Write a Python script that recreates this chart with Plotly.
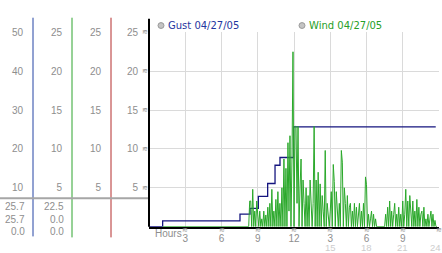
import plotly.graph_objects as go

W, H = 442, 253

# ---------------- data ----------------
gust_hours = [0, 1.13, 7.53, 8.36, 9.05, 9.82, 10.43, 10.84, 11.96, 23.73]
gust_mph = [0, 1.5, 3.2, 4.7, 7.8, 11.1, 15.8, 17.8, 25.7, 25.7]

wind_lead_hours = [1.13]
wind_lead_mph = [0]
wind_start = 8.25
wind_step = 1 / 12
wind_mph = [
    0, 3.3, 3.3, 0, 4.8, 0, 2, 0, 3.3,
    1.5, 0, 2, 0, 1, 0, 2, 0, 1.5, 0, 2.5, 0,
    3, 0, 4.8, 0, 2, 0, 3.5, 0, 4.5, 0, 3, 0,
    5, 0, 8.7, 0, 7.5, 0, 10.8, 2, 11.7, 0, 9, 22.5,
    0, 12.9, 12.9, 3, 12.9, 0, 5, 8.7, 0, 6, 3, 0,
    5, 0, 4, 0, 6, 2, 0, 3, 12.9, 0, 6, 0,
    7, 0, 5.5, 0, 4, 2, 0, 9.8, 0, 3, 1, 0,
    2, 4.5, 0, 8, 5.8, 0, 4.5, 2, 0, 3, 0, 9.8,
    8.3, 0, 5, 3, 0, 4, 0, 2.5, 3, 0, 2, 0,
    3, 0, 2.5, 0, 1.6, 3, 0, 2, 0, 3, 0, 6.4,
    5.4, 0, 1.6, 0, 1, 2, 0, 1.6, 0, 1, 0, 0,
    0, 0, 0, 0, 0, 0, 0, 1.6, 0, 2.5, 0, 3.3,
    0, 2, 0, 1.6, 3, 0, 1.6, 0, 2.5, 0, 1.6, 0,
    3.3, 0, 1.6, 4.8, 0, 3.3, 0, 4, 2, 0, 3.3, 0,
    2, 0, 3.5, 0, 2.5, 0, 1.6, 2, 0, 2.5, 0, 1,
    0, 1.6, 0, 1, 2, 0, 1.6, 0, 0.8, 0, 0,
]
wind_hours = wind_lead_hours + [wind_start + i * wind_step for i in range(len(wind_mph))]
wind_vals = wind_lead_mph + wind_mph

x_tickvals = [3, 6, 9, 12, 15, 18, 21, 24]
x_ticktext = ["3", "6", "9", "12", "3", "6", "9", "12"]
x_second_vals = [15, 18, 21, 24]
x_second_text = ["15", "18", "21", "24"]

main_ticks = [5, 10, 15, 20, 25]
gust_ticks = [10, 20, 30, 40, 50]

gust_label = "Gust 04/27/05"
wind_label = "Wind 04/27/05"

# ---------------- styles ----------------
GUST_COLOR = "#15157f"
WIND_COLOR = "#2aa82a"
GRID = "#dadada"
TICK_GRAY = "#8e8e8e"
LIGHT_GRAY = "#cdcdcd"
MARK_GRAY = "#8a8a8a"
FONT = "Liberation Sans"
MARK = "≋"


def px(x):
    return x / W


def py(y):
    return 1 - y / H


fig = go.Figure()
fig.add_trace(go.Scatter(x=wind_hours, y=wind_vals, mode="lines",
                         line=dict(color=WIND_COLOR, width=1), yaxis="y3",
                         name=wind_label, showlegend=False))
fig.add_trace(go.Scatter(x=gust_hours, y=gust_mph, mode="lines",
                         line=dict(color=GUST_COLOR, width=1.3, shape="hv"), yaxis="y2",
                         name=gust_label, showlegend=False))
fig.add_trace(go.Scatter(x=[None], y=[None], mode="lines", yaxis="y4", showlegend=False))

tickfont = dict(family=FONT, size=10, color=TICK_GRAY)
ydom = [py(226), py(27)]

fig.update_layout(
    width=W, height=H,
    margin=dict(l=0, r=0, t=0, b=0),
    paper_bgcolor="white", plot_bgcolor="white",
    xaxis=dict(domain=[px(149), px(439)], range=[0, 24], tickvals=x_tickvals,
               ticktext=x_ticktext, showgrid=True, gridcolor=GRID, gridwidth=1,
               showline=True, linecolor="black", linewidth=2, ticks="",
               zeroline=False, tickfont=tickfont, ticklabelstandoff=1),
    yaxis=dict(domain=ydom, range=[0, 25], tickvals=main_ticks,
               showgrid=True, gridcolor=GRID, gridwidth=1, showline=False,
               zeroline=False, ticks="", tickfont=tickfont, ticklabelstandoff=10),
    yaxis2=dict(overlaying="y", anchor="free", position=px(33), side="left",
                range=[0, 50], tickvals=gust_ticks, showgrid=False, zeroline=False,
                showline=False, ticks="", tickfont=tickfont, ticklabelstandoff=10),
    yaxis3=dict(overlaying="y", anchor="free", position=px(72), side="left",
                range=[0, 25], tickvals=main_ticks, showgrid=False, zeroline=False,
                showline=False, ticks="", tickfont=tickfont, ticklabelstandoff=10),
    yaxis4=dict(overlaying="y", anchor="free", position=px(111), side="left",
                range=[0, 25], tickvals=main_ticks, showgrid=False, zeroline=False,
                showline=False, ticks="", tickfont=tickfont, ticklabelstandoff=10),
    showlegend=False,
)

shapes = [
    dict(type="line", xref="paper", yref="paper", x0=px(33), x1=px(33), y0=py(12), y1=py(236),
         line=dict(color="#2444a4", width=1)),
    dict(type="line", xref="paper", yref="paper", x0=px(72), x1=px(72), y0=py(12), y1=py(237),
         line=dict(color="#2ea42e", width=1)),
    dict(type="line", xref="paper", yref="paper", x0=px(111), x1=px(111), y0=py(12), y1=py(237),
         line=dict(color="#b42c2c", width=1)),
    dict(type="line", xref="paper", yref="paper", x0=px(0), x1=px(149), y0=py(197), y1=py(197),
         line=dict(color="#a6a6a6", width=2)),
    dict(type="line", xref="paper", yref="paper", x0=px(149), x1=px(149), y0=py(13), y1=py(226),
         line=dict(color="black", width=2)),
    dict(type="circle", xref="paper", yref="paper", x0=px(158), x1=px(164), y0=py(17), y1=py(23),
         fillcolor="#c4c4c4", line=dict(color="#9a9a9a", width=1)),
    dict(type="circle", xref="paper", yref="paper", x0=px(299), x1=px(305), y0=py(17), y1=py(23),
         fillcolor="#c4c4c4", line=dict(color="#9a9a9a", width=1)),
]

ann = []
# legend text
ann.append(dict(x=px(166), y=py(20), xref="paper", yref="paper", text=gust_label,
                showarrow=False, xanchor="left", yanchor="middle",
                font=dict(family="DejaVu Sans", size=10, color="#1f36a0")))
ann.append(dict(x=px(307), y=py(20), xref="paper", yref="paper", text=wind_label,
                showarrow=False, xanchor="left", yanchor="middle",
                font=dict(family="DejaVu Sans", size=10, color="#27a027")))
# wavy markers beside y ticks
for v in main_ticks:
    ann.append(dict(x=px(145), y=v, xref="paper", yref="y", text=MARK, showarrow=False,
                    xanchor="center", yanchor="middle",
                    font=dict(family="DejaVu Sans", size=7, color=MARK_GRAY)))
# wavy markers above x tick labels
for v in x_tickvals:
    ann.append(dict(x=v, y=py(229.5), xref="x", yref="paper", text=MARK, showarrow=False,
                    xanchor="center", yanchor="middle",
                    font=dict(family="DejaVu Sans", size=7, color=MARK_GRAY)))
# second row of hour labels
for v, t in zip(x_second_vals, x_second_text):
    ann.append(dict(x=v, y=py(247), xref="x", yref="paper", text=t, showarrow=False,
                    xanchor="center", yanchor="middle", xshift=(-4 if v == 24 else 0),
                    font=dict(family=FONT, size=9.5, color=LIGHT_GRAY)))
ann.append(dict(x=px(153), y=py(233), xref="paper", yref="paper", text="Hours",
                showarrow=False, xanchor="left", yanchor="middle",
                font=dict(family=FONT, size=10, color=TICK_GRAY)))

# summary values (max / current / min)
gust_stats = [max(gust_mph), gust_mph[-1], min(gust_mph)]
wind_stats = [max(wind_vals), wind_vals[-1], min(wind_vals)]
for i, yy in enumerate([205, 218.5, 231]):
    ann.append(dict(x=px(27), y=py(yy), xref="paper", yref="paper",
                    text=f"{gust_stats[i]:.1f}", showarrow=False, xanchor="right",
                    yanchor="middle", font=dict(family=FONT, size=10, color=TICK_GRAY)))
    ann.append(dict(x=px(66), y=py(yy), xref="paper", yref="paper",
                    text=f"{wind_stats[i]:.1f}", showarrow=False, xanchor="right",
                    yanchor="middle", font=dict(family=FONT, size=10, color=TICK_GRAY)))

fig.update_layout(shapes=shapes, annotations=ann)
fig.write_html("out.html")
